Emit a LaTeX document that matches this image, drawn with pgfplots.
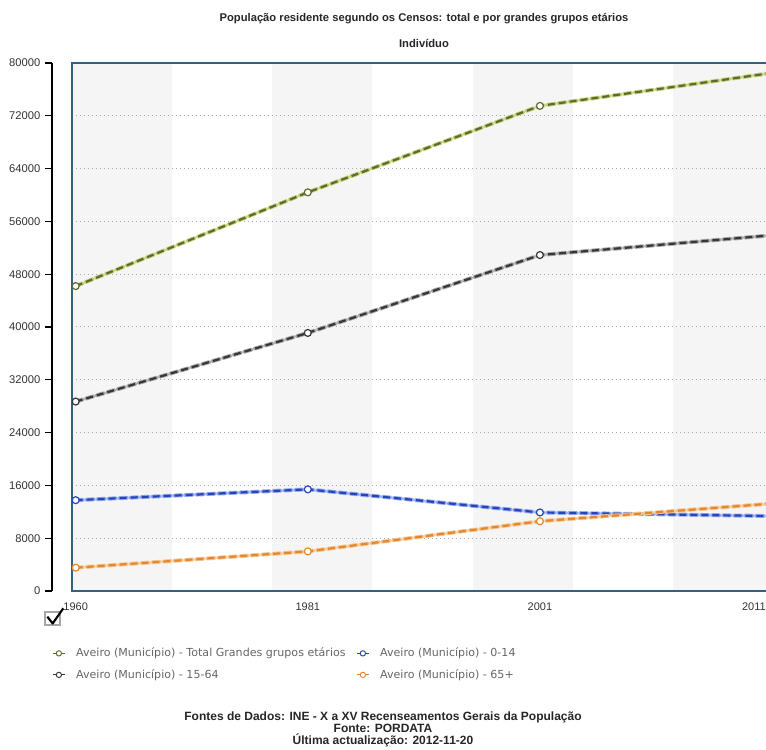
\documentclass[border=0pt]{standalone}
\usepackage{fontspec}
\setmainfont{Liberation Sans}
\newfontfamily\dejavu{DejaVu Sans}
\usepackage{pgfplots}
\pgfplotsset{compat=1.18}
\definecolor{boxblue}{RGB}{46,100,130}
\definecolor{bandgrey}{RGB}{245,245,245}
\definecolor{gridc}{RGB}{170,170,170}
\definecolor{cTot}{RGB}{94,107,48}
\definecolor{cTotG}{RGB}{196,212,122}
\definecolor{cAdu}{RGB}{55,55,55}
\definecolor{cAduG}{RGB}{170,170,170}
\definecolor{cKid}{RGB}{36,70,184}
\definecolor{cKidG}{RGB}{150,170,240}
\definecolor{cOld}{RGB}{228,135,45}
\definecolor{cOldG}{RGB}{246,200,150}
\begin{document}
\begin{tikzpicture}[x=0.75pt,y=0.75pt]
\useasboundingbox (0,0) rectangle (766,749);
\clip (0,0) rectangle (766,749);
\node[font=\bfseries\fontsize{8.4}{10}\selectfont, text=black!85] at (424,730) {População residente segundo os Censos: total e por grandes grupos etários};
\node[font=\bfseries\fontsize{8.4}{10}\selectfont, text=black!85] at (424,706) {Indivíduo};
% separate y axis
\begin{axis}[at={(39pt,118.5pt)}, anchor=south west, scale only axis, width=10pt, height=396pt,
  ymin=0, ymax=80000, xmin=0, xmax=1,
  axis y line=left, axis x line=none,
  y axis line style={-, line width=1.5pt, black},
  ytick={0,8000,16000,24000,32000,40000,48000,56000,64000,72000,80000},
  tick align=outside, major tick length=5.25pt,
  major tick style={line width=1pt, black},
  scaled y ticks=false,
  yticklabel style={/pgf/number format/.cd, 1000 sep={}, assume math mode=true},
  tick label style={font=\fontsize{8.4}{10}\selectfont, text=black!80}]
\addplot[draw=none] coordinates {(0,0)};
\end{axis}
% main axis
\begin{axis}[at={(54pt,118.5pt)}, anchor=south west, scale only axis, width=525.75pt, height=396pt,
  xmin=-0.0159, xmax=3.0043, ymin=0, ymax=80000,
  axis on top,
  axis line style={draw=boxblue, line width=1.8pt},
  ytick=\empty, xtick={0,1,2,2.922}, xticklabels={1960,1981,2001,2011},
  major tick length=0pt,
  tick label style={font=\fontsize{8.25}{10}\selectfont, text=black!80},
  xticklabel style={yshift=-5pt},
  legend columns=2, legend cell align=left,
  legend style={at={(-0.0285,-0.1023)}, anchor=north west, draw=none, fill=none,
    font=\dejavu\fontsize{8.3}{10}\selectfont, text=black!60,
    /tikz/column sep=6pt, /tikz/row sep=4pt, inner sep=0pt},
  legend image code/.code={\draw[#1, solid, mark=none, line width=0.9pt] (0pt,0pt) -- (9pt,0pt);
    \draw[#1, solid, mark=none, line width=0.7pt, fill=white] (4.5pt,0pt) circle (2pt);},
]
\fill[bandgrey] (axis cs:-0.0159,0) rectangle (axis cs:0.4156,80000);
\fill[bandgrey] (axis cs:0.8470,0) rectangle (axis cs:1.2785,80000);
\fill[bandgrey] (axis cs:1.7099,0) rectangle (axis cs:2.1414,80000);
\fill[bandgrey] (axis cs:2.5728,0) rectangle (axis cs:3.0043,80000);
\pgfplotsinvokeforeach{8000,16000,24000,32000,40000,48000,56000,64000,72000}{
  \draw[gridc, line width=0.75pt, dash pattern=on 0.75pt off 2.25pt] (axis cs:0,#1) -- (axis cs:3.0043,#1);}
% Total
\addplot[forget plot, cTotG, line width=3pt, line cap=round, dash pattern=on 5.25pt off 3pt] coordinates {(0,46200) (1,60400) (2,73500) (3,78500)};
\addplot[cTot, line width=1.65pt, dash pattern=on 5.25pt off 3pt, mark=*, mark size=2.6pt,
  mark options={solid, fill=white, draw=cTot, line width=0.9pt}] coordinates {(0,46200) (1,60400) (2,73500) (3,78500)};
\addlegendentry{Aveiro (Município) - Total Grandes grupos etários}
% 0-14
\addplot[forget plot, cKidG, line width=3pt, line cap=round, dash pattern=on 5.25pt off 3pt] coordinates {(0,13760) (1,15400) (2,11900) (3,11350)};
\addplot[cKid, line width=1.65pt, dash pattern=on 5.25pt off 3pt, mark=*, mark size=2.6pt,
  mark options={solid, fill=white, draw=cKid, line width=0.9pt}] coordinates {(0,13760) (1,15400) (2,11900) (3,11350)};
\addlegendentry{Aveiro (Município) - 0-14}
% 15-64
\addplot[forget plot, cAduG, line width=3pt, line cap=round, dash pattern=on 5.25pt off 3pt] coordinates {(0,28700) (1,39100) (2,50900) (3,53900)};
\addplot[cAdu, line width=1.65pt, dash pattern=on 5.25pt off 3pt, mark=*, mark size=2.6pt,
  mark options={solid, fill=white, draw=cAdu, line width=0.9pt}] coordinates {(0,28700) (1,39100) (2,50900) (3,53900)};
\addlegendentry{Aveiro (Município) - 15-64}
% 65+
\addplot[forget plot, cOldG, line width=3pt, line cap=round, dash pattern=on 5.25pt off 3pt] coordinates {(0,3530) (1,6000) (2,10570) (3,13250)};
\addplot[cOld, line width=1.65pt, dash pattern=on 5.25pt off 3pt, mark=*, mark size=2.6pt,
  mark options={solid, fill=white, draw=cOld, line width=0.9pt}] coordinates {(0,3530) (1,6000) (2,10570) (3,13250)};
\addlegendentry{Aveiro (Município) - 65+}
\end{axis}
% checkbox icon
\draw[gray!70, line width=0.9pt, fill=white] (45,124) rectangle (60,137);
\draw[black, line width=1.6pt, line join=round] (47.3,132.3) -- (52.7,125.5) -- (63.3,140.7);
\node[font=\bfseries\fontsize{9}{9}\selectfont, text=black!85, align=center] at (383,20) {Fontes de Dados: INE - X a XV Recenseamentos Gerais da População\\Fonte: PORDATA\\Última actualização: 2012-11-20};
\end{tikzpicture}
\end{document}
